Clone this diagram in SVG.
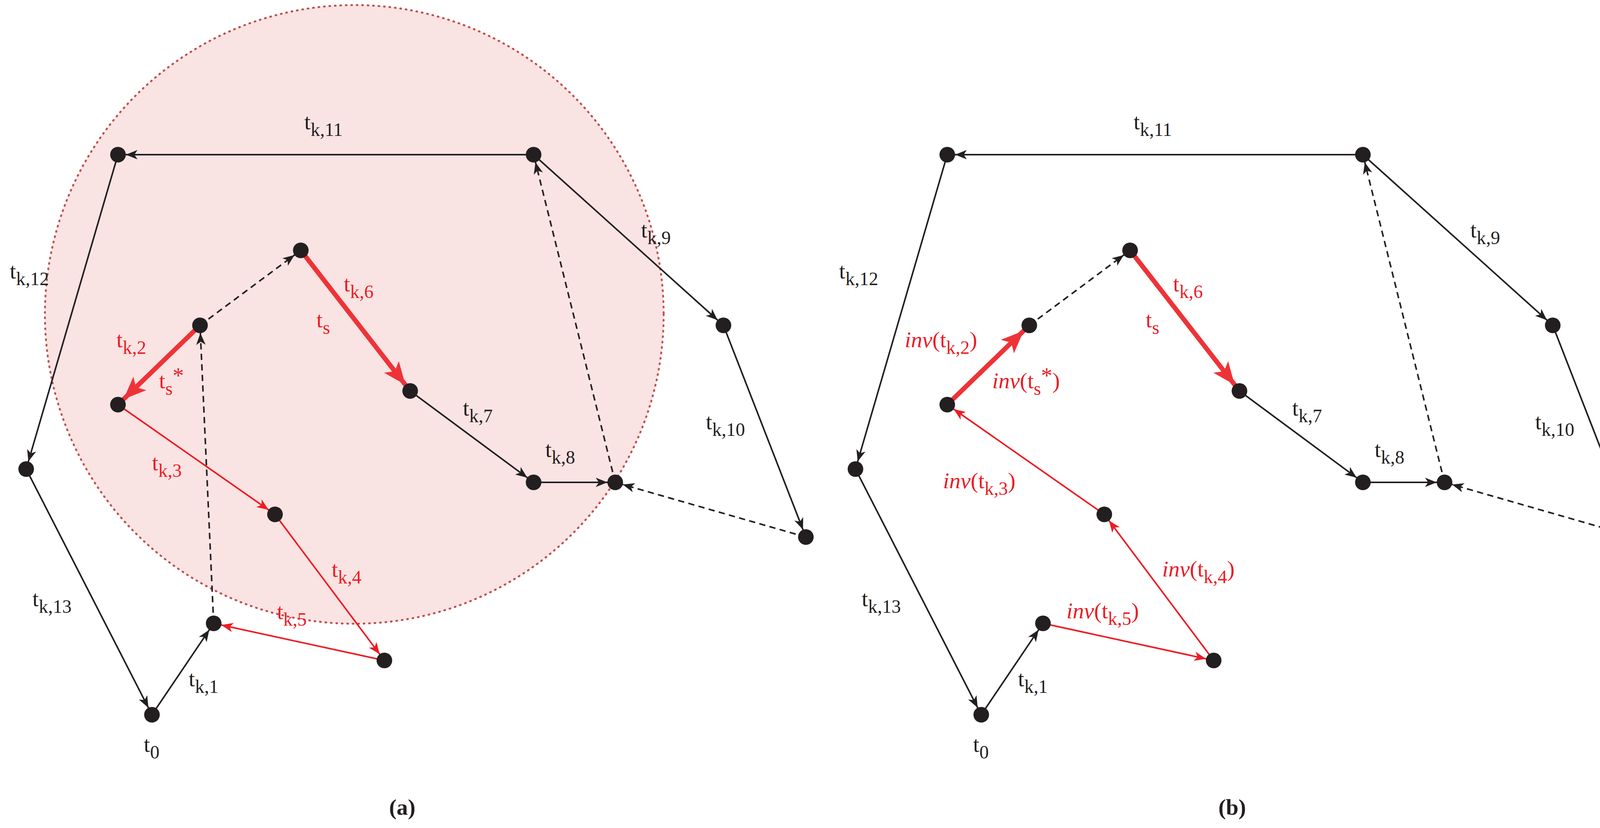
<svg xmlns="http://www.w3.org/2000/svg" width="4229" height="2120" viewBox="0 0 4229 2120">
<style>
.n{fill:#231f20}
.k{stroke:#231f20;stroke-width:4;fill:none}
.d{stroke:#231f20;stroke-width:4;fill:none;stroke-dasharray:16 11}
.r{stroke:#ed1c24;stroke-width:4;fill:none}
.R{stroke:#ee3338;stroke-width:12;fill:none}
text{font-family:'Liberation Serif','DejaVu Serif',serif;font-size:58px;fill:#231f20}
.t{fill:#ed1c24}
.s{font-size:48px}
.i{font-style:italic}
.c{font-weight:bold;font-size:58px}
</style>
<defs>
<marker id="ak" markerUnits="userSpaceOnUse" markerWidth="60" markerHeight="30" refX="50" refY="12" orient="auto" overflow="visible"><path d="M0,0 L30,12 L0,24 L8,12 z" fill="#231f20"/></marker>
<marker id="ar" markerUnits="userSpaceOnUse" markerWidth="60" markerHeight="30" refX="50" refY="12" orient="auto" overflow="visible"><path d="M0,0 L30,12 L0,24 L8,12 z" fill="#ed1c24"/></marker>
<marker id="aR" markerUnits="userSpaceOnUse" markerWidth="90" markerHeight="50" refX="78" refY="24" orient="auto" overflow="visible"><path d="M0,0 L58,24 L0,48 L14,24 z" fill="#ee3338"/></marker>
</defs>
<circle id="region" cx="907" cy="805" r="792" fill="#fae3e3" stroke="#c0504d" stroke-width="5" stroke-dasharray="2 12" stroke-linecap="round"/>
<g id="connectors">
<g id="panel-a-edges">
<line class="k" x1="389" y1="1830" x2="547" y2="1596" marker-end="url(#ak)"/>
<line class="d" x1="547" y1="1596" x2="512" y2="833" marker-end="url(#ak)"/>
<line class="d" x1="512" y1="833" x2="770" y2="641" marker-end="url(#ak)"/>
<line class="R" x1="770" y1="641" x2="1050" y2="1001" marker-end="url(#aR)"/>
<line class="k" x1="1050" y1="1001" x2="1366" y2="1235" marker-end="url(#ak)"/>
<line class="k" x1="1366" y1="1235" x2="1575" y2="1235" marker-end="url(#ak)"/>
<line class="d" x1="2063" y1="1375" x2="1575" y2="1235" marker-end="url(#ak)"/>
<line class="d" x1="1575" y1="1235" x2="1366" y2="396" marker-end="url(#ak)"/>
<line class="k" x1="1366" y1="396" x2="1852" y2="833" marker-end="url(#ak)"/>
<line class="k" x1="1852" y1="833" x2="2063" y2="1375" marker-end="url(#ak)"/>
<line class="k" x1="1366" y1="396" x2="302" y2="396" marker-end="url(#ak)"/>
<line class="k" x1="302" y1="396" x2="67" y2="1201" marker-end="url(#ak)"/>
<line class="k" x1="67" y1="1201" x2="389" y2="1830" marker-end="url(#ak)"/>
<line class="R" x1="512" y1="833" x2="302" y2="1036" marker-end="url(#aR)"/>
<line class="r" x1="302" y1="1036" x2="704" y2="1317" marker-end="url(#ar)"/>
<line class="r" x1="704" y1="1317" x2="984" y2="1691" marker-end="url(#ar)"/>
<line class="r" x1="984" y1="1691" x2="547" y2="1596" marker-end="url(#ar)"/>
</g>
<g id="panel-b-edges">
<line class="k" x1="2512" y1="1830" x2="2670" y2="1596" marker-end="url(#ak)"/>
<line class="d" x1="2635" y1="833" x2="2893" y2="641" marker-end="url(#ak)"/>
<line class="R" x1="2893" y1="641" x2="3173" y2="1001" marker-end="url(#aR)"/>
<line class="k" x1="3173" y1="1001" x2="3489" y2="1235" marker-end="url(#ak)"/>
<line class="k" x1="3489" y1="1235" x2="3698" y2="1235" marker-end="url(#ak)"/>
<line class="d" x1="4186" y1="1375" x2="3698" y2="1235" marker-end="url(#ak)"/>
<line class="d" x1="3698" y1="1235" x2="3489" y2="396" marker-end="url(#ak)"/>
<line class="k" x1="3489" y1="396" x2="3975" y2="833" marker-end="url(#ak)"/>
<line class="k" x1="3975" y1="833" x2="4186" y2="1375" marker-end="url(#ak)"/>
<line class="k" x1="3489" y1="396" x2="2425" y2="396" marker-end="url(#ak)"/>
<line class="k" x1="2425" y1="396" x2="2190" y2="1201" marker-end="url(#ak)"/>
<line class="k" x1="2190" y1="1201" x2="2512" y2="1830" marker-end="url(#ak)"/>
<line class="R" x1="2425" y1="1036" x2="2635" y2="833" marker-end="url(#aR)"/>
<line class="r" x1="2827" y1="1317" x2="2425" y2="1036" marker-end="url(#ar)"/>
<line class="r" x1="3107" y1="1691" x2="2827" y2="1317" marker-end="url(#ar)"/>
<line class="r" x1="2670" y1="1596" x2="3107" y2="1691" marker-end="url(#ar)"/>
</g>
</g>
<g id="nodes-a">
<circle id="a0" class="n" cx="389" cy="1830" r="20"/>
<circle id="a1" class="n" cx="302" cy="396" r="20"/>
<circle id="a2" class="n" cx="1366" cy="396" r="20"/>
<circle id="a3" class="n" cx="770" cy="641" r="20"/>
<circle id="a4" class="n" cx="512" cy="833" r="20"/>
<circle id="a5" class="n" cx="302" cy="1036" r="20"/>
<circle id="a6" class="n" cx="1050" cy="1001" r="20"/>
<circle id="a7" class="n" cx="1366" cy="1235" r="20"/>
<circle id="a8" class="n" cx="1575" cy="1235" r="20"/>
<circle id="a9" class="n" cx="1852" cy="833" r="20"/>
<circle id="a10" class="n" cx="2063" cy="1375" r="20"/>
<circle id="a11" class="n" cx="984" cy="1691" r="20"/>
<circle id="a12" class="n" cx="547" cy="1596" r="20"/>
<circle id="a13" class="n" cx="704" cy="1317" r="20"/>
<circle id="a14" class="n" cx="67" cy="1201" r="20"/>
</g>
<g id="nodes-b">
<circle id="b0" class="n" cx="2512" cy="1830" r="20"/>
<circle id="b1" class="n" cx="2425" cy="396" r="20"/>
<circle id="b2" class="n" cx="3489" cy="396" r="20"/>
<circle id="b3" class="n" cx="2893" cy="641" r="20"/>
<circle id="b4" class="n" cx="2635" cy="833" r="20"/>
<circle id="b5" class="n" cx="2425" cy="1036" r="20"/>
<circle id="b6" class="n" cx="3173" cy="1001" r="20"/>
<circle id="b7" class="n" cx="3489" cy="1235" r="20"/>
<circle id="b8" class="n" cx="3698" cy="1235" r="20"/>
<circle id="b9" class="n" cx="3975" cy="833" r="20"/>
<circle id="b10" class="n" cx="4186" cy="1375" r="20"/>
<circle id="b11" class="n" cx="3107" cy="1691" r="20"/>
<circle id="b12" class="n" cx="2670" cy="1596" r="20"/>
<circle id="b13" class="n" cx="2827" cy="1317" r="20"/>
<circle id="b14" class="n" cx="2190" cy="1201" r="20"/>
</g>
<g id="labels-a" font-family="Liberation Serif, DejaVu Serif, serif">
<text x="779" y="331">t<tspan class="s" dy="17">k,11</tspan></text>
<text x="25" y="713">t<tspan class="s" dy="17">k,12</tspan></text>
<text x="83" y="1552">t<tspan class="s" dy="17">k,13</tspan></text>
<text x="483" y="1757">t<tspan class="s" dy="17">k,1</tspan></text>
<text x="368" y="1925">t<tspan class="s" dy="17">0</tspan></text>
<text x="1185" y="1064">t<tspan class="s" dy="17">k,7</tspan></text>
<text x="1396" y="1170">t<tspan class="s" dy="17">k,8</tspan></text>
<text x="1641" y="608">t<tspan class="s" dy="17">k,9</tspan></text>
<text x="1807" y="1099">t<tspan class="s" dy="17">k,10</tspan></text>
<text class="t" x="880" y="746">t<tspan class="s" dy="17">k,6</tspan></text>
<text class="t" x="810" y="838">t<tspan class="s" dy="17">s</tspan></text>
<text class="t" x="298" y="889">t<tspan class="s" dy="17">k,2</tspan></text>
<text class="t" x="407" y="994">t<tspan class="s" dy="17">s</tspan><tspan dy="-30">*</tspan></text>
<text class="t" x="389" y="1204">t<tspan class="s" dy="17">k,3</tspan></text>
<text class="t" x="849" y="1477">t<tspan class="s" dy="17">k,4</tspan></text>
<text class="t" x="709" y="1585">t<tspan class="s" dy="17">k,5</tspan></text>
<text class="c" x="996" y="2086">(a)</text>
</g>
<g id="labels-b" font-family="Liberation Serif, DejaVu Serif, serif">
<text x="2902" y="331">t<tspan class="s" dy="17">k,11</tspan></text>
<text x="2148" y="713">t<tspan class="s" dy="17">k,12</tspan></text>
<text x="2206" y="1552">t<tspan class="s" dy="17">k,13</tspan></text>
<text x="2606" y="1757">t<tspan class="s" dy="17">k,1</tspan></text>
<text x="2491" y="1925">t<tspan class="s" dy="17">0</tspan></text>
<text x="3308" y="1064">t<tspan class="s" dy="17">k,7</tspan></text>
<text x="3519" y="1170">t<tspan class="s" dy="17">k,8</tspan></text>
<text x="3764" y="608">t<tspan class="s" dy="17">k,9</tspan></text>
<text x="3930" y="1099">t<tspan class="s" dy="17">k,10</tspan></text>
<text class="t" x="3003" y="746">t<tspan class="s" dy="17">k,6</tspan></text>
<text class="t" x="2933" y="838">t<tspan class="s" dy="17">s</tspan></text>
<text class="t" x="2316" y="889"><tspan class="i">inv</tspan>(t<tspan class="s" dy="17">k,2</tspan><tspan dy="-17">)</tspan></text>
<text class="t" x="2540" y="994"><tspan class="i">inv</tspan>(t<tspan class="s" dy="17">s</tspan><tspan dy="-30">*</tspan><tspan dy="13">)</tspan></text>
<text class="t" x="2414" y="1250"><tspan class="i">inv</tspan>(t<tspan class="s" dy="17">k,3</tspan><tspan dy="-17">)</tspan></text>
<text class="t" x="2975" y="1476"><tspan class="i">inv</tspan>(t<tspan class="s" dy="17">k,4</tspan><tspan dy="-17">)</tspan></text>
<text class="t" x="2730" y="1583"><tspan class="i">inv</tspan>(t<tspan class="s" dy="17">k,5</tspan><tspan dy="-17">)</tspan></text>
<text class="c" x="3119" y="2086">(b)</text>
</g>
</svg>
